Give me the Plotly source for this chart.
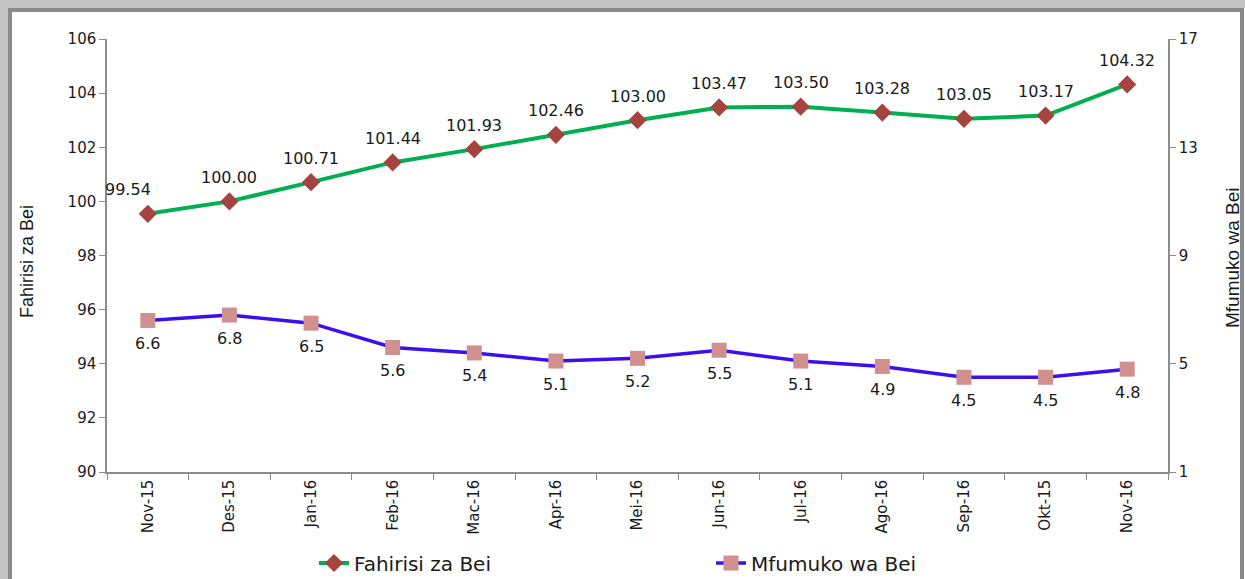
import plotly.graph_objects as go

categories = ["Nov-15", "Des-15", "Jan-16", "Feb-16", "Mac-16", "Apr-16", "Mei-16",
              "Jun-16", "Jul-16", "Ago-16", "Sep-16", "Okt-15", "Nov-16"]
fahirisi = [99.54, 100.00, 100.71, 101.44, 101.93, 102.46, 103.00,
            103.47, 103.50, 103.28, 103.05, 103.17, 104.32]
mfumuko = [6.6, 6.8, 6.5, 5.6, 5.4, 5.1, 5.2, 5.5, 5.1, 4.9, 4.5, 4.5, 4.8]

W, H = 1245, 579
L, R, T, B = 107, 77, 39, 107
pw, ph = W - L - R, H - T - B

def px(x):
    return (x - L) / pw

def py(y):
    return (H - B - y) / ph

fig = go.Figure()
fig.add_trace(go.Scatter(
    x=categories, y=fahirisi, name="Fahirisi za Bei", mode="lines+markers",
    line=dict(color="#00B050", width=4),
    marker=dict(symbol="diamond", size=14, color="#A5433F"),
    cliponaxis=False,
))
fig.add_trace(go.Scatter(
    x=categories, y=mfumuko, name="Mfumuko wa Bei", mode="lines+markers",
    line=dict(color="#3A10F0", width=3.5),
    marker=dict(symbol="square", size=15, color="#D09090"),
    yaxis="y2", cliponaxis=False,
))

label_font = dict(family="DejaVu Sans", size=16, color="#1a1a1a")
annotations = []
for i, (c, v) in enumerate(zip(categories, fahirisi)):
    annotations.append(dict(x=c, y=v, xref="x", yref="y", text=f"{v:.2f}", showarrow=False,
                            yshift=24, xshift=-20 if i == 0 else 0, font=label_font))
for c, v in zip(categories, mfumuko):
    annotations.append(dict(x=c, y=v, xref="x", yref="y2", text=f"{v:.1f}", showarrow=False,
                            yshift=-23, font=label_font))
annotations += [
    dict(text="Fahirisi za Bei", xref="paper", yref="paper", x=px(27), y=py(262),
         textangle=-90, showarrow=False, xanchor="center", yanchor="middle",
         font=dict(family="Liberation Sans", size=18, color="#1a1a1a")),
    dict(text="Mfumuko wa Bei", xref="paper", yref="paper", x=px(1232), y=py(258),
         textangle=-90, showarrow=False, xanchor="center", yanchor="middle",
         font=dict(family="Liberation Sans", size=19, color="#1a1a1a")),
]

axis_common = dict(showgrid=False, zeroline=False, showline=True, linecolor="#8c8c8c",
                   linewidth=1.5, ticks="outside", tickcolor="#8c8c8c", ticklen=6,
                   automargin=False,
                   tickfont=dict(family="DejaVu Sans", size=15, color="#1a1a1a"))

fig.update_layout(
    width=W, height=H,
    margin=dict(l=L, r=R, t=T, b=B),
    paper_bgcolor="white", plot_bgcolor="white",
    xaxis=dict(**axis_common, tickangle=-90, tickson="boundaries", range=[-0.5, 12.5]),
    yaxis=dict(**axis_common, range=[90, 106], dtick=2),
    yaxis2=dict(**axis_common, range=[1, 17], tick0=1, dtick=4, overlaying="y", side="right"),
    legend=dict(orientation="h", xref="container", yref="container",
                x=314 / W, xanchor="left", y=1 - 563 / H, yanchor="middle",
                font=dict(family="DejaVu Sans", size=20, color="#1a1a1a"),
                itemwidth=30, entrywidth=352),
    showlegend=True,
    annotations=annotations,
)

# frame with shadow on top/left
fig.add_shape(type="rect", xref="paper", yref="paper",
              x0=px(4), x1=px(1260), y0=py(4), y1=py(600),
              line=dict(color="#c4c4c4", width=8), layer="below")
fig.add_shape(type="rect", xref="paper", yref="paper",
              x0=px(10), x1=px(1242), y0=py(10), y1=py(600),
              line=dict(color="#8a8a8a", width=4), layer="below")

fig.write_html("out.html", config={"displayModeBar": False},
               post_script="document.body.style.margin='0';")
